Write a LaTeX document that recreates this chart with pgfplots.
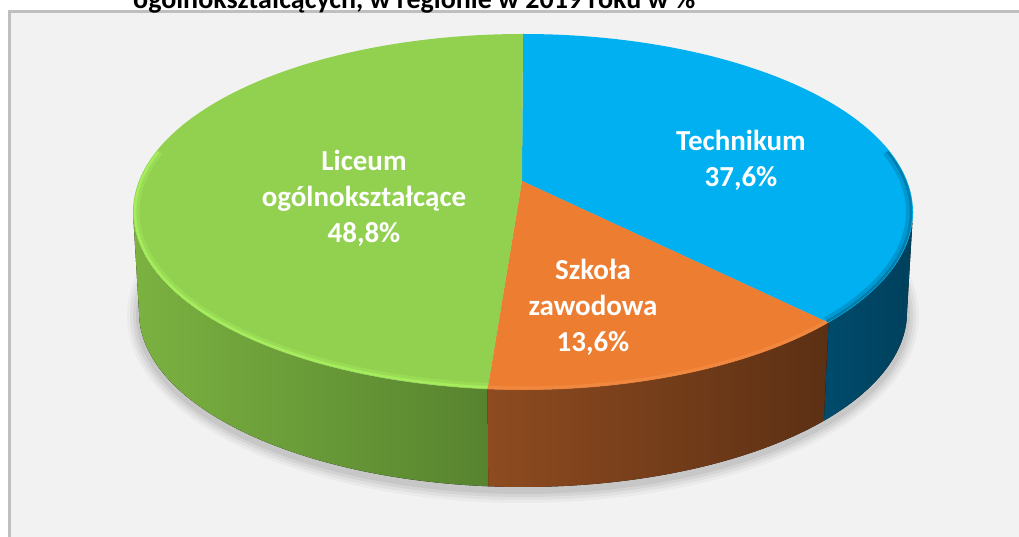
\documentclass[border=0pt]{standalone}
\usepackage{fontspec}
\setmainfont{Carlito}
\usepackage{pgfplots}
\usepackage{pgfplotstable}
\pgfplotsset{compat=1.18}
\definecolor{cgreen}{HTML}{92D050}
\definecolor{cblue}{HTML}{00B0F0}
\definecolor{corange}{HTML}{ED7D31}
\definecolor{gside1}{HTML}{7BB241}
\definecolor{gside2}{HTML}{57832F}
\definecolor{oside1}{HTML}{8E4B20}
\definecolor{oside2}{HTML}{5C3014}
\definecolor{bside1}{HTML}{004B6C}
\definecolor{bside2}{HTML}{00405C}
\definecolor{bgc}{HTML}{F2F2F2}
\definecolor{framec}{HTML}{BFBFBF}
\definecolor{grim}{HTML}{A8F060}
\definecolor{brim}{HTML}{006E98}
\definecolor{orim}{HTML}{F48E45}

\pgfplotstableread{
name share
Technikum 37.6
Szkola 13.6
Liceum 48.8
}\shares
\pgfplotstablegetelem{0}{share}\of\shares \let\sT\pgfplotsretval
\pgfplotstablegetelem{1}{share}\of\shares \let\sS\pgfplotsretval
\pgfplotstablegetelem{2}{share}\of\shares \let\sL\pgfplotsretval
\pgfmathsetmacro\thA{90-3.6*\sT}
\pgfmathsetmacro\thB{\thA-3.6*\sS}
% geometry (pt = px)
\def\Px{522}\def\Py{356}
\def\Ex{523}\def\Ey{325}\def\ra{390}\def\rb{178}
\def\Bx{523}\def\By{225}\def\ba{384}\def\bb{175}
\pgfmathsetmacro\ox{(\Px-\Ex)/\ra}
\pgfmathsetmacro\oy{(\Py-\Ey)/\rb}
\newcommand\rimangle[2]{%
  \pgfmathsetmacro\ux{cos(#1)}%
  \pgfmathsetmacro\uy{sin(#1)}%
  \pgfmathsetmacro\od{\ox*\ux+\oy*\uy}%
  \pgfmathsetmacro\tpar{-\od+sqrt(\od*\od-\ox*\ox-\oy*\oy+1)}%
  \pgfmathsetmacro#2{atan2(\oy+\tpar*\uy,\ox+\tpar*\ux)}%
}
\rimangle{\thA}{\phA}
\rimangle{\thB}{\phB}
\pgfmathsetmacro\phBB{\phB+360}
\pgfmathsetmacro\ByS{\By-4}
\pgfmathsetmacro\raI{\ra-2}
\pgfmathsetmacro\rbI{\rb-2}

\begin{document}
\begin{tikzpicture}
\path[use as bounding box] (0,0) rectangle (1019pt,537pt);
\clip (0,0) rectangle (1019pt,537pt);
\fill[white] (0,0) rectangle (1019pt,537pt);
\fill[bgc] (9.5pt,-20pt) rectangle (1060pt,525.5pt);
\draw[framec, line width=3pt] (9.5pt,-20pt) -- (9.5pt,525.5pt) -- (1060pt,525.5pt);
\node[anchor=base west, font=\bfseries\fontsize{28}{32}\selectfont, inner sep=0pt] at (133pt,528pt) {ogólnokształcących, w regionie w 2019 roku w \%};
\begin{axis}[at={(0pt,0pt)}, anchor=origin, scale only axis, width=1019pt, height=537pt,
  xmin=0, xmax=1019, ymin=0, ymax=537, hide axis, clip=false]
% soft shadow
\fill[black, opacity=0.03] (axis cs:\Bx,\ByS) ellipse [x radius=396pt, y radius=187pt];
\fill[black, opacity=0.04] (axis cs:\Bx,\ByS) ellipse [x radius=393pt, y radius=184pt];
\fill[black, opacity=0.05] (axis cs:\Bx,\ByS) ellipse [x radius=390pt, y radius=181pt];
\fill[black, opacity=0.06] (axis cs:\Bx,\ByS) ellipse [x radius=387pt, y radius=178pt];
% sides
\fill[left color=bside1, right color=bside2]
  (axis cs:{\Ex+\ra*cos(\phA)},{\Ey+\rb*sin(\phA)}) arc[start angle=\phA, end angle=0, x radius=\ra pt, y radius=\rb pt]
  -- (axis cs:{\Bx+\ba},\By) arc[start angle=0, end angle=\phA, x radius=\ba pt, y radius=\bb pt] -- cycle;
\fill[left color=oside1, right color=oside2]
  (axis cs:{\Ex+\ra*cos(\phB)},{\Ey+\rb*sin(\phB)}) arc[start angle=\phB, end angle=\phA, x radius=\ra pt, y radius=\rb pt]
  -- (axis cs:{\Bx+\ba*cos(\phA)},{\By+\bb*sin(\phA)}) arc[start angle=\phA, end angle=\phB, x radius=\ba pt, y radius=\bb pt] -- cycle;
\fill[left color=gside1, right color=gside2]
  (axis cs:{\Ex-\ra},\Ey) arc[start angle=-180, end angle=\phB, x radius=\ra pt, y radius=\rb pt]
  -- (axis cs:{\Bx+\ba*cos(\phB)},{\By+\bb*sin(\phB)}) arc[start angle=\phB, end angle=-180, x radius=\ba pt, y radius=\bb pt] -- cycle;
% top faces
\addplot[draw=none, fill=cblue, domain=\phA:90, samples=120, variable=\t]
  ({\Ex+\ra*cos(\t)},{\Ey+\rb*sin(\t)}) -- (axis cs:\Px,\Py) -- cycle;
\addplot[draw=none, fill=corange, domain=\phB:\phA, samples=60, variable=\t]
  ({\Ex+\ra*cos(\t)},{\Ey+\rb*sin(\t)}) -- (axis cs:\Px,\Py) -- cycle;
\addplot[draw=none, fill=cgreen, domain=90:\phBB, samples=160, variable=\t]
  ({\Ex+\ra*cos(\t)},{\Ey+\rb*sin(\t)}) -- (axis cs:\Px,\Py) -- cycle;
% rim bevels
\draw[line width=5pt, grim, opacity=0.35]
  (axis cs:{\Ex+386*cos(\phB)},{\Ey+174*sin(\phB)}) arc[start angle=\phB, end angle=-200, x radius=386pt, y radius=174pt];
\draw[line width=2.5pt, grim, opacity=0.9]
  (axis cs:{\Ex+\raI*cos(\phB)},{\Ey+\rbI*sin(\phB)}) arc[start angle=\phB, end angle=-200, x radius=\raI pt, y radius=\rbI pt];
\draw[line width=3pt, orim, opacity=0.7]
  (axis cs:{\Ex+\raI*cos(\phA)},{\Ey+\rbI*sin(\phA)}) arc[start angle=\phA, end angle=\phB, x radius=\raI pt, y radius=\rbI pt];
\draw[line width=6pt, brim, opacity=0.35]
  (axis cs:{\Ex+386*cos(20)},{\Ey+174*sin(20)}) arc[start angle=20, end angle=\phA, x radius=386pt, y radius=174pt];
\draw[line width=2.5pt, brim, opacity=0.6]
  (axis cs:{\Ex+\raI*cos(20)},{\Ey+\rbI*sin(20)}) arc[start angle=20, end angle=\phA, x radius=\raI pt, y radius=\rbI pt];
% labels
\node[align=center, text=white, font=\bfseries\fontsize{29}{36}\selectfont] at (axis cs:364,339) {Liceum\\ogólnokształcące\\48,8\%};
\node[align=center, text=white, font=\bfseries\fontsize{29}{36}\selectfont] at (axis cs:741,377) {Technikum\\37,6\%};
\node[align=center, text=white, font=\bfseries\fontsize{29}{36}\selectfont] at (axis cs:593,230) {Szkoła\\zawodowa\\13,6\%};
\end{axis}
\end{tikzpicture}
\end{document}
